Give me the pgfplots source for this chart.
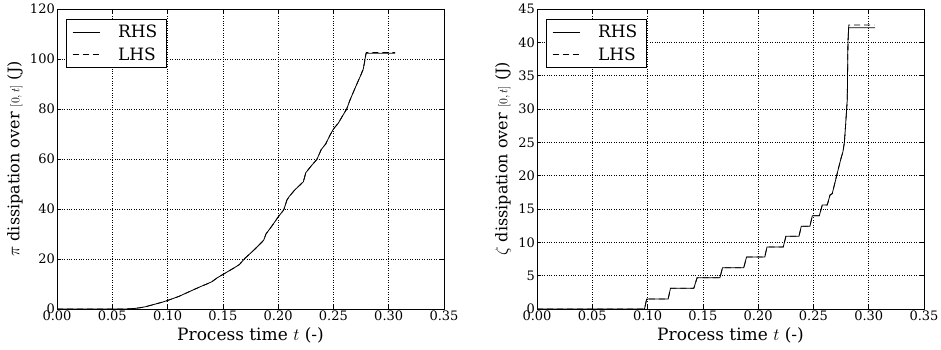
\documentclass[border=0pt]{standalone}
\usepackage{pgfplots}
\pgfplotsset{compat=1.18}
\usepackage{fontspec}
\setmainfont{DejaVu Serif}

\pgfplotstableread{
x y
0 0
0.06 0
0.065 0.05
0.07 0.2
0.075 0.5
0.08 0.9
0.085 1.5
0.09 2.1
0.095 2.7
0.10 3.4
0.105 4.2
0.11 5.0
0.115 6.0
0.12 7.0
0.125 8.0
0.13 9.0
0.135 9.9
0.14 10.9
0.145 12.5
0.15 13.8
0.155 15.1
0.16 16.4
0.165 17.8
0.17 20.3
0.175 22.3
0.18 24.4
0.185 26.6
0.187 27.6
0.189 30.0
0.195 33.6
0.20 36.8
0.205 39.6
0.208 43.6
0.21 45.0
0.215 47.6
0.2228 50.9
0.225 54.5
0.23 57.3
0.235 59.8
0.239 63.8
0.243 66.0
0.247 69.6
0.25 72.0
0.2545 74.4
0.259 77.8
0.262 80.0
0.265 83.6
0.27 88.8
0.275 93.8
0.277 96.0
0.2795 102.3
0.3057 102.3
}\pitableR

\pgfplotstableread{
x y
0 0
0.06 0
0.065 0.05
0.07 0.2
0.075 0.5
0.08 0.9
0.085 1.5
0.09 2.1
0.095 2.7
0.10 3.4
0.105 4.2
0.11 5.0
0.115 6.0
0.12 7.0
0.125 8.0
0.13 9.0
0.135 9.9
0.14 10.9
0.145 12.5
0.15 13.8
0.155 15.1
0.16 16.4
0.165 17.8
0.17 20.3
0.175 22.3
0.18 24.4
0.185 26.6
0.187 27.6
0.189 30.0
0.195 33.6
0.20 36.8
0.205 39.6
0.208 43.6
0.21 45.0
0.215 47.6
0.2228 50.9
0.225 54.5
0.23 57.3
0.235 59.8
0.239 63.8
0.243 66.0
0.247 69.6
0.25 72.0
0.2545 74.4
0.259 77.8
0.262 80.0
0.265 83.6
0.27 88.8
0.275 93.8
0.277 96.0
0.2797 102.6
0.3057 102.6
}\pitableL

\pgfplotstableread{
x y
0 0
0.0972 0
0.0992 1.5
0.1186 1.5
0.1207 3.1
0.1418 3.1
0.1448 4.7
0.1654 4.7
0.1678 6.2
0.187 6.2
0.1895 7.8
0.206 7.8
0.208 9.3
0.2227 9.3
0.2251 10.9
0.2369 10.9
0.239 12.4
0.2468 12.4
0.249 14.0
0.2553 14.0
0.258 15.6
0.2625 15.6
0.265 17.1
0.267 17.3
0.2716 20.4
0.2746 22.4
0.2767 23.6
0.2780 25.0
0.279 27.4
0.2806 31.4
0.2812 39.9
0.2818 42.2
0.3057 42.2
}\zetaR

\pgfplotstableread{
x y
0 0
0.0972 0
0.0992 1.5
0.1186 1.5
0.1207 3.1
0.1418 3.1
0.1448 4.7
0.1654 4.7
0.1678 6.2
0.187 6.2
0.1895 7.8
0.206 7.8
0.208 9.3
0.2227 9.3
0.2251 10.9
0.2369 10.9
0.239 12.4
0.2468 12.4
0.249 14.0
0.2553 14.0
0.258 15.6
0.2625 15.6
0.265 17.1
0.267 17.3
0.2716 20.4
0.2746 22.4
0.2767 23.6
0.2780 25.0
0.279 27.4
0.2806 31.4
0.2812 39.9
0.2820 42.6
0.3050 42.6
}\zetaL

\pgfplotsset{
  mplstyle/.style={
    scale only axis,
    width=387pt, height=300pt,
    xmin=0, xmax=0.35,
    xtick={0,0.05,0.1,0.15,0.2,0.25,0.3,0.35},
    tick align=inside,
    xtick pos=both, ytick pos=both,
    major tick length=4pt,
    minor tick num=0,
    grid=major,
    grid style={dotted, black, line width=0.6pt},
    axis line style={line width=0.8pt},
    every tick/.style={black, line width=0.6pt},
    tick label style={font=\fontsize{13}{14}\selectfont},
    xticklabel style={inner sep=1.5pt, /pgf/number format/fixed, /pgf/number format/fixed zerofill, /pgf/number format/precision=2, /pgf/number format/assume math mode=true},
    yticklabel style={inner sep=2pt, /pgf/number format/fixed, /pgf/number format/assume math mode=true},
    xlabel={Process time $t$ (-)},
    every axis x label/.style={at={(axis description cs:0.5,0)}, anchor=center, yshift=-26pt, font=\fontsize{17}{19}\selectfont},
    legend cell align=left,
    legend style={at={(0,1)}, anchor=north west, xshift=9pt, yshift=-10pt,
      draw=black, line width=0.6pt, font=\fontsize{17}{19}\selectfont,
      inner xsep=6pt, inner ysep=4pt, row sep=4pt,
      nodes={inner xsep=3pt}},
    legend image code/.code={\draw[#1] (0pt,0pt) -- (27pt,0pt);},
  },
  rhs/.style={black, line width=0.8pt},
  lhs/.style={black, line width=0.8pt, dash pattern=on 6pt off 4pt},
}

\begin{document}
\begin{tikzpicture}
\useasboundingbox (0,0) rectangle (941pt,350pt);
\begin{axis}[mplstyle, at={(57pt,41pt)}, anchor=south west,
  ymin=0, ymax=120, ytick={0,20,40,60,80,100,120},
  ylabel={$\pi$ dissipation over {\fontsize{13}{14}\selectfont$[0,t]$} (J)},
  every axis y label/.style={at={(axis description cs:0,0.5)}, rotate=90, anchor=center, yshift=42pt, font=\fontsize{16}{18}\selectfont}]
\addplot[rhs] table[x=x,y=y] {\pitableR};
\addlegendentry{\hspace{15pt}RHS}
\addplot[lhs] table[x=x,y=y] {\pitableL};
\addlegendentry{\hspace{15pt}LHS}
\end{axis}
\begin{axis}[mplstyle, at={(537pt,41pt)}, anchor=south west,
  ymin=0, ymax=45, ytick={0,5,10,15,20,25,30,35,40,45},
  ylabel={$\zeta$ dissipation over {\fontsize{13}{14}\selectfont$[0,t]$} (J)},
  every axis y label/.style={at={(axis description cs:0,0.5)}, rotate=90, anchor=center, yshift=34pt, font=\fontsize{16}{18}\selectfont}]
\addplot[rhs] table[x=x,y=y] {\zetaR};
\addlegendentry{\hspace{15pt}RHS}
\addplot[lhs] table[x=x,y=y] {\zetaL};
\addlegendentry{\hspace{15pt}LHS}
\end{axis}
\end{tikzpicture}
\end{document}
